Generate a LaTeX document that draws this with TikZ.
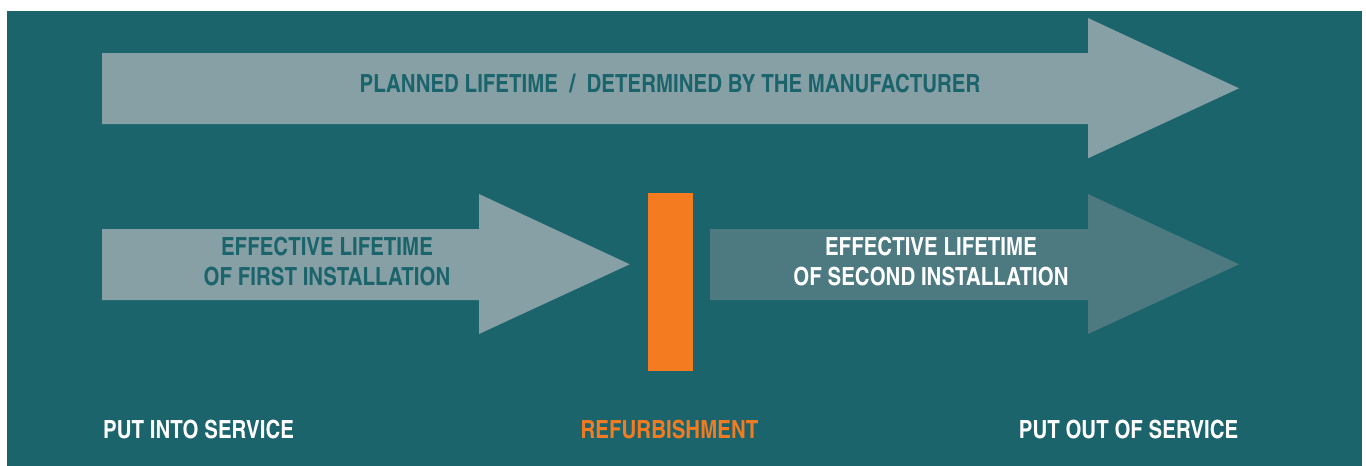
\documentclass[tikz,border=0pt]{standalone}
\usepackage{fontspec}
\setmainfont{TeX Gyre Heros Cn}[BoldFont={* Bold}]
\definecolor{panel}{HTML}{1B646C}
\definecolor{pale}{HTML}{86A0A6}
\definecolor{mid}{HTML}{4D7A80}
\definecolor{flame}{HTML}{F47B20}
\begin{document}
\begin{tikzpicture}[x=1pt,y=-1pt,
  lbl/.style={inner sep=0pt,align=center,font=\fontsize{25}{30.4}\selectfont\bfseries},
  darklbl/.style={lbl,text=panel},
  lightlbl/.style={lbl,text=white}]
\useasboundingbox (0,0) rectangle (1366,466);
% panel
\fill[panel] (7,11) rectangle (1362,466);
% planned lifetime arrow
\fill[pale] (102,53) -- (1088,53) -- (1088,18) -- (1239,88.3) -- (1088,158.3) -- (1088,124) -- (102,124) -- cycle;
% first installation arrow
\fill[pale] (102,229) -- (479,229) -- (479,194) -- (629.7,264.3) -- (479,334) -- (479,300) -- (102,300) -- cycle;
% second installation arrow
\fill[mid] (710,229) -- (1088,229) -- (1088,194) -- (1239,264.3) -- (1088,334) -- (1088,300) -- (710,300) -- cycle;
% refurbishment bar
\fill[flame] (648,193) rectangle (693,371);
% labels
\node[darklbl] (planned) at (670,84) {PLANNED LIFETIME~~/~~DETERMINED BY THE MANUFACTURER};
\node[darklbl] (first) at (327,261.5) {EFFECTIVE LIFETIME\\OF FIRST INSTALLATION};
\node[lightlbl] (second) at (931,261.5) {EFFECTIVE LIFETIME\\OF SECOND INSTALLATION};
\node[lightlbl,anchor=base west] (start) at (103,438.3) {PUT INTO SERVICE};
\node[lbl,text=flame,anchor=base] (refurb) at (669.5,438.3) {REFURBISHMENT};
\node[lightlbl,anchor=base east] (stop) at (1238.5,438.3) {PUT OUT OF SERVICE};
\end{tikzpicture}
\end{document}
